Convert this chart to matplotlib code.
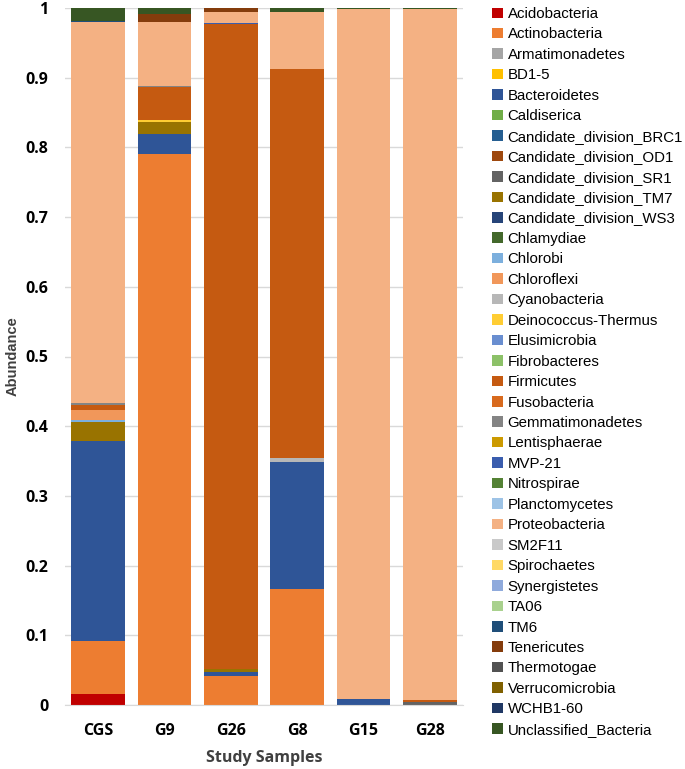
import matplotlib
matplotlib.use("Agg")
import matplotlib.pyplot as plt
import numpy as np

samples = ["CGS", "G9", "G26", "G8", "G15", "G28"]

phyla = ["Acidobacteria", "Actinobacteria", "Armatimonadetes", "BD1-5", "Bacteroidetes",
         "Caldiserica", "Candidate_division_BRC1", "Candidate_division_OD1",
         "Candidate_division_SR1", "Candidate_division_TM7", "Candidate_division_WS3",
         "Chlamydiae", "Chlorobi", "Chloroflexi", "Cyanobacteria", "Deinococcus-Thermus",
         "Elusimicrobia", "Fibrobacteres", "Firmicutes", "Fusobacteria", "Gemmatimonadetes",
         "Lentisphaerae", "MVP-21", "Nitrospirae", "Planctomycetes", "Proteobacteria",
         "SM2F11", "Spirochaetes", "Synergistetes", "TA06", "TM6", "Tenericutes",
         "Thermotogae", "Verrucomicrobia", "WCHB1-60", "Unclassified_Bacteria"]

colors = ["#C00000", "#ED7D31", "#A5A5A5", "#FFC000", "#2F5597",
          "#70AD47", "#255E91", "#9E480E",
          "#636363", "#997300", "#264478",
          "#43682B", "#7CAFDD", "#F1975A", "#B7B7B7", "#FFCD33",
          "#698ED0", "#8CC168", "#C55A11", "#D86A1E", "#848484",
          "#CC9A00", "#3A5DAE", "#548235", "#9DC3E6", "#F4B183",
          "#C9C9C9", "#FFD966", "#8FAADC", "#A9D18E", "#1F4E79", "#843C0C",
          "#525252", "#7F6000", "#203864", "#375623"]

# non-zero abundances per sample
cgs = {"Acidobacteria": 0.016, "Actinobacteria": 0.076, "Bacteroidetes": 0.287,
       "Candidate_division_TM7": 0.027, "Chlorobi": 0.003, "Chloroflexi": 0.014,
       "Firmicutes": 0.007, "Gemmatimonadetes": 0.003, "Proteobacteria": 0.547,
       "TM6": 0.002, "Unclassified_Bacteria": 0.018}
g9 = {"Actinobacteria": 0.790, "Bacteroidetes": 0.029, "Candidate_division_TM7": 0.017,
      "Deinococcus-Thermus": 0.003, "Firmicutes": 0.047, "Gemmatimonadetes": 0.002,
      "Proteobacteria": 0.092, "Tenericutes": 0.012, "Unclassified_Bacteria": 0.008}
g26 = {"Actinobacteria": 0.042, "Bacteroidetes": 0.005, "Candidate_division_TM7": 0.004,
       "Firmicutes": 0.926, "MVP-21": 0.002, "Proteobacteria": 0.015, "Tenericutes": 0.006}
g8 = {"Actinobacteria": 0.167, "Bacteroidetes": 0.182, "Cyanobacteria": 0.005,
      "Firmicutes": 0.559, "Proteobacteria": 0.081, "Unclassified_Bacteria": 0.006}
g15 = {"Bacteroidetes": 0.008, "Proteobacteria": 0.990, "Unclassified_Bacteria": 0.002}
g28 = {"Candidate_division_SR1": 0.004, "Firmicutes": 0.003, "Proteobacteria": 0.991,
       "Unclassified_Bacteria": 0.002}

data = np.array([[s.get(p, 0.0) for s in (cgs, g9, g26, g8, g15, g28)] for p in phyla])

fig = plt.figure(figsize=(6.85, 7.69), dpi=100)
ax = fig.add_axes([65/685, 1 - 705/769, 398/685, 697/769])

x = np.arange(len(samples))
bottom = np.zeros(len(samples))
handles = []
for name, col, vals in zip(phyla, colors, data):
    b = ax.bar(x, vals, 0.81, bottom=bottom, color=col, label=name, zorder=2)
    handles.append(b)
    bottom += vals

ax.set_xlim(-0.5, 5.5)
ax.set_ylim(0, 1)
ax.set_yticks(np.arange(0, 1.01, 0.1))
ax.set_yticklabels(["0", "0.1", "0.2", "0.3", "0.4", "0.5", "0.6", "0.7", "0.8", "0.9", "1"])
ax.set_xticks(x)
ax.set_xticklabels(samples)
ax.yaxis.grid(True, color="#D9D9D9", linewidth=1, zorder=0)
for s in ["top", "right", "left"]:
    ax.spines[s].set_visible(False)
ax.spines["bottom"].set_color("#D9D9D9")
ax.tick_params(length=0, labelsize=11.5)
ax.tick_params(axis="x", pad=13)
ax.tick_params(axis="y", pad=12)
for lab in ax.get_xticklabels() + ax.get_yticklabels():
    lab.set_fontweight("bold")
    lab.set_fontfamily("Open Sans")
ax.set_xlabel("Study Samples", fontsize=11.5, fontweight="bold", color="#404040",
              fontfamily="Open Sans", labelpad=8)
ax.set_ylabel("Abundance", fontsize=10.5, fontweight="bold", color="#404040",
              fontfamily="Liberation Sans", labelpad=4)

fig.legend(handles=handles, loc="upper left", bbox_to_anchor=(492/685, 1 - 7/769),
           frameon=False, labelspacing=0.43, handlelength=0.7,
           handleheight=0.7, handletextpad=0.35, borderaxespad=0, borderpad=0,
           prop={"family": "Liberation Sans", "size": 10.8})

fig.savefig("out.png", dpi=100)
